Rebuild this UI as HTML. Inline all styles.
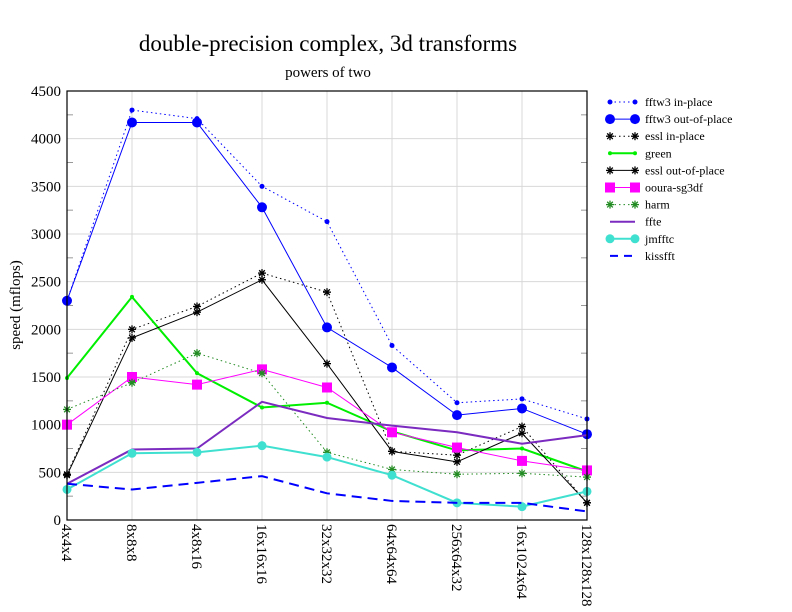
<!DOCTYPE html>
<html><head><meta charset="utf-8"><style>
body{margin:0;background:#fff}
svg{display:block;font-family:"Liberation Serif",serif}
</style></head><body>
<svg id="chart" width="792" height="612" xmlns="http://www.w3.org/2000/svg">
<rect width="792" height="612" fill="#fff"/>
<text x="328" y="51" font-size="23" text-anchor="middle">double-precision complex, 3d transforms</text>
<text x="328" y="77" font-size="15" text-anchor="middle">powers of two</text>
<text transform="translate(20,305) rotate(-90)" font-size="15" text-anchor="middle">speed (mflops)</text>
<g id="grid"></g><g id="series"></g><g id="legend"></g>
<rect x="67" y="91" width="520" height="429" fill="none" stroke="#000" stroke-width="1.2"/>
</svg>
<script>
const categories=["4x4x4","8x8x8","4x8x16","16x16x16","32x32x32","64x64x64","256x64x32","16x1024x64","128x128x128"];
const yTicks=[0,500,1000,1500,2000,2500,3000,3500,4000,4500];
const fftw3In=[2300,4300,4210,3500,3130,1830,1230,1270,1060];
const fftw3Out=[2300,4170,4170,3280,2020,1600,1100,1170,900];
const esslIn=[480,2000,2240,2590,2390,720,680,980,180];
const green=[1490,2340,1540,1180,1230,930,730,750,510];
const esslOut=[470,1910,2180,2520,1640,720,610,910,180];
const ooura=[1000,1500,1420,1580,1390,920,760,620,520];
const harm=[1160,1440,1750,1540,710,530,480,490,450];
const ffte=[380,740,750,1240,1070,990,920,800,890];
const jmfftc=[320,700,710,780,660,470,180,140,300];
const kissfft=[380,320,390,460,280,200,180,180,90];
const names=["fftw3 in-place","fftw3 out-of-place","essl in-place","green","essl out-of-place","ooura-sg3df","harm","ffte","jmfftc","kissfft"];

const NS="http://www.w3.org/2000/svg";
const X0=67,X1=587,Y0=520,Y1=91,YMAX=4500;
const xs=i=>X0+i*(X1-X0)/(categories.length-1);
const ys=v=>Y0-v/YMAX*(Y0-Y1);
function mk(t,a,p){const e=document.createElementNS(NS,t);for(const k in a)e.setAttribute(k,a[k]);p.appendChild(e);return e;}
const grid=document.getElementById('grid'),ser=document.getElementById('series'),leg=document.getElementById('legend'),svg=document.getElementById('chart');
yTicks.forEach(v=>{
 const l=mk('line',{x1:X0,x2:X1,y1:ys(v),y2:ys(v),stroke:'#d8d8d8','stroke-width':1},grid);
 
 
 const t=mk('text',{x:X0-6,y:ys(v)+5,'font-size':15,'text-anchor':'end'},grid);t.textContent=v;
 
 
 if(v<YMAX){[X0,X1-6].forEach(x=>mk('line',{x1:x,x2:x+6,y1:ys(v+250),y2:ys(v+250),stroke:'#999'},grid));}
});
categories.forEach((c,i)=>{
 const l=mk('line',{x1:xs(i),x2:xs(i),y1:Y0,y2:Y1,stroke:'#d8d8d8','stroke-width':1},grid);
 
 
 const t=mk('text',{transform:`translate(${xs(i)-5},524) rotate(90)`,'font-size':15},grid);t.textContent=c;
 
 
});
const specs=[
 {d:fftw3In,c:'#0000ff',w:1,dash:'1.5,3',m:'dot',r:2.5},
 {d:fftw3Out,c:'#0000ff',w:1,dash:'',m:'dot',r:5},
 {d:esslIn,c:'#000',w:1,dash:'1.5,3',m:'star',r:4},
 {d:green,c:'#00ee00',w:2,dash:'',m:'dot',r:2},
 {d:esslOut,c:'#000',w:1,dash:'',m:'star',r:4},
 {d:ooura,c:'#ff00ff',w:1,dash:'',m:'sq',r:5},
 {d:harm,c:'#228b22',w:1,dash:'1.5,3',m:'star',r:4},
 {d:ffte,c:'#7b2bbf',w:2,dash:'',m:'',r:0},
 {d:jmfftc,c:'#40e0d0',w:2,dash:'',m:'dot',r:4.5},
 {d:kissfft,c:'#0000ff',w:2,dash:'10,6',m:'',r:0}
];
function marker(s,x,y,p){
 if(s.m==='dot')mk('circle',{cx:x,cy:y,r:s.r,fill:s.c},p);
 else if(s.m==='sq')mk('rect',{x:x-s.r,y:y-s.r,width:2*s.r,height:2*s.r,fill:s.c},p);
 else if(s.m==='star'){for(let a=0;a<4;a++){const t=a*Math.PI/4;mk('line',{x1:x-s.r*Math.cos(t),y1:y-s.r*Math.sin(t),x2:x+s.r*Math.cos(t),y2:y+s.r*Math.sin(t),stroke:s.c,'stroke-width':1.3},p);}}
}
specs.forEach((s,k)=>{
 const g=mk('g',{},ser);
 
 
 const pts=s.d.map((v,i)=>xs(i)+','+ys(v)).join(' ');
 mk('polyline',{points:pts,fill:'none',stroke:s.c,'stroke-width':s.w,'stroke-dasharray':s.dash},g);
 s.d.forEach((v,i)=>marker(s,xs(i),ys(v),g));
 const ly=102+k*17.1;
 const lg=mk('g',{},leg);
 
 
 mk('line',{x1:610,x2:635,y1:ly,y2:ly,stroke:s.c,'stroke-width':s.w,'stroke-dasharray':s.dash?(s.m?'1.5,3':'8,6'):''},lg);
 if(s.m){marker(s,610,ly,lg);marker(s,635,ly,lg);}
 const t=mk('text',{x:645,y:ly+4,'font-size':12},lg);t.textContent=names[k];
});
</script>
</body></html>
